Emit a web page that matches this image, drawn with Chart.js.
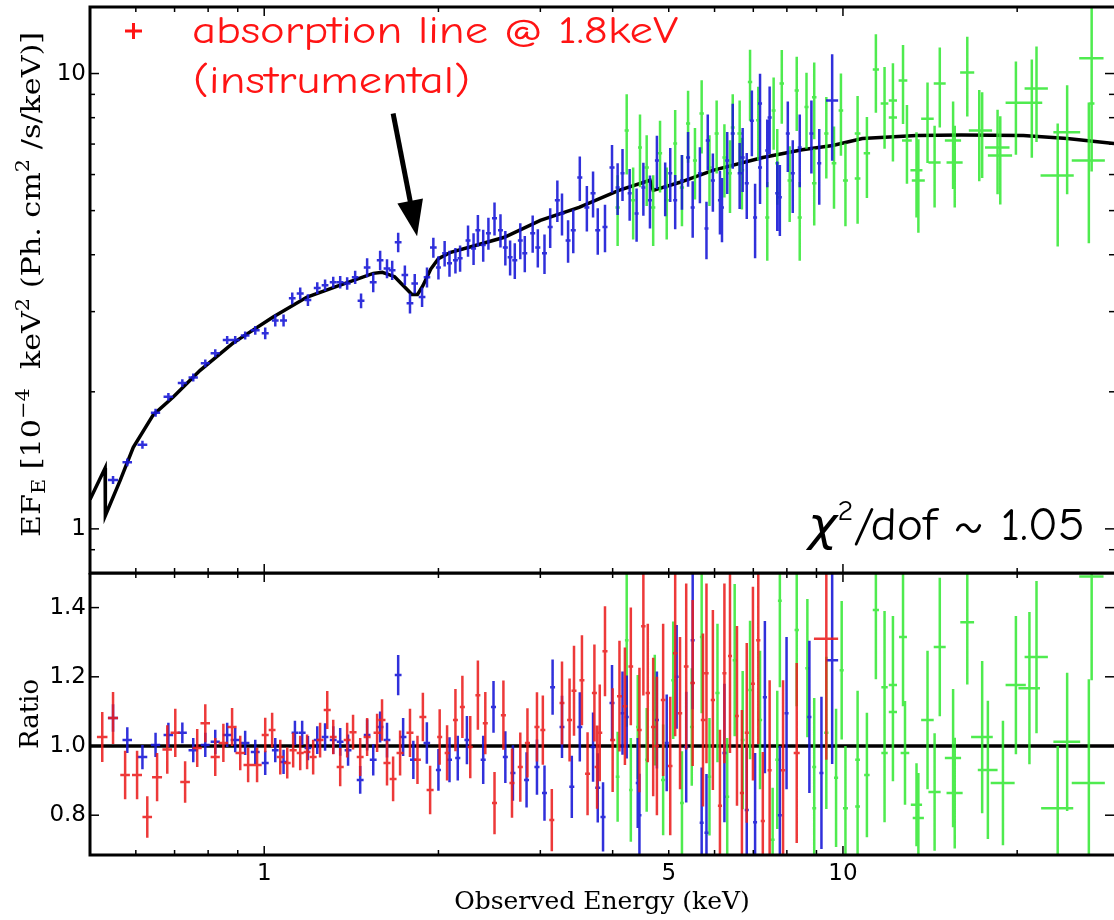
<!DOCTYPE html>
<html>
<head>
<meta charset="utf-8">
<script src="https://cdn.jsdelivr.net/npm/chart.js@4.4.1/dist/chart.umd.min.js"></script>
<style>
  html, body { margin: 0; padding: 0; background: #fff; }
  #wrap { position: relative; width: 1114px; height: 920px; overflow: hidden; }
  #top { position: absolute; left: 0; top: 0; z-index: 2; }
  #bot { position: absolute; left: 0; top: 573px; z-index: 1; }
</style>
</head>
<body>
<div id="wrap">
  <canvas id="bot" width="1114" height="347"></canvas>
  <canvas id="top" width="1114" height="580"></canvas>
</div>
<script>
// each point: [energy keV, value, half width keV, half height]
const blueSpec = [
  [0.548,1.28,0.011,0.026],[0.580,1.40,0.011,0.028],[0.616,1.53,0.012,0.031],[0.649,1.80,0.012,0.036],
  [0.683,1.95,0.013,0.039],[0.722,2.09,0.013,0.042],[0.754,2.15,0.014,0.043],[0.791,2.31,0.014,0.046],
  [0.823,2.43,0.015,0.049],[0.863,2.60,0.015,0.052],[0.891,2.60,0.016,0.052],[0.927,2.66,0.016,0.053],
  [0.965,2.73,0.017,0.06],[1.004,2.69,0.014,0.08],[1.045,2.87,0.014,0.086],[1.080,2.87,0.015,0.086],
  [1.118,3.21,0.015,0.096],[1.154,3.29,0.016,0.099],[1.190,3.18,0.016,0.095],[1.235,3.38,0.017,0.10],
  [1.274,3.43,0.017,0.10],[1.316,3.48,0.018,0.10],[1.353,3.48,0.018,0.11],[1.391,3.46,0.019,0.11],
  [1.436,3.57,0.019,0.12],[1.470,3.17,0.02,0.12],[1.506,3.75,0.02,0.18],[1.543,3.48,0.021,0.17],
  [1.586,3.89,0.021,0.19],[1.630,3.73,0.022,0.18],[1.664,3.70,0.022,0.18],[1.704,4.26,0.023,0.21],
  [1.750,3.61,0.023,0.18],[1.786,3.13,0.024,0.16],[1.820,3.46,0.024,0.17],[1.874,3.23,0.025,0.16],
  [1.911,3.57,0.025,0.18],[1.960,4.15,0.026,0.21],[2.00,3.75,0.02,0.22],[2.05,4.03,0.02,0.26],
  [2.09,3.83,0.021,0.25],[2.14,3.89,0.021,0.25],[2.18,3.93,0.022,0.26],[2.25,4.30,0.022,0.34],
  [2.30,4.13,0.023,0.33],[2.34,4.53,0.023,0.36],[2.39,4.20,0.024,0.34],[2.44,4.46,0.024,0.36],
  [2.50,4.81,0.025,0.40],[2.56,4.53,0.025,0.38],[2.61,4.15,0.026,0.36],[2.66,3.95,0.026,0.35],
  [2.71,3.89,0.027,0.35],[2.77,4.30,0.027,0.39],[2.82,4.03,0.028,0.37],[2.91,4.46,0.029,0.42],
  [2.97,4.15,0.03,0.40],[3.05,4.03,0.03,0.40],[3.12,4.60,0.031,0.46],[3.21,5.27,0.032,0.55],
  [3.27,4.93,0.033,0.52],[3.35,4.30,0.033,0.46],[3.42,4.53,0.034,0.50],[3.51,5.91,0.035,0.66],
  [3.61,5.08,0.036,0.58],[3.70,5.46,0.037,0.63],[3.77,4.53,0.038,0.53],[3.88,4.60,0.039,0.55],
  [3.99,6.22,0.04,0.75],[4.08,5.62,0.033,0.73],[4.16,6.04,0.033,0.79],[4.28,5.46,0.034,0.71],
  [4.40,4.93,0.035,0.66],[4.52,5.62,0.036,0.75],[4.64,5.27,0.037,0.70],[4.77,6.44,0.038,0.86],
  [4.93,5.62,0.039,0.76],[5.03,6.04,0.04,0.82],[5.13,5.27,0.041,0.72],[5.27,5.82,0.042,0.80],
  [5.40,6.54,0.043,0.90],[5.50,5.08,0.044,0.72],[5.66,6.04,0.045,0.85],[5.81,4.57,0.046,0.66],
  [5.84,7.13,0.047,1.0],[5.96,5.82,0.048,0.85],[6.13,5.27,0.049,0.84],[6.18,5.08,0.049,0.82],
  [6.31,6.44,0.05,1.0],[6.45,7.38,0.052,1.2],[6.63,6.04,0.053,1.0],[6.71,6.54,0.054,1.05],
  [6.82,5.74,0.055,0.95],[6.96,7.88,0.056,1.3],[7.05,4.83,0.056,0.9],[7.19,6.22,0.058,1.05],
  [7.19,8.59,0.058,1.4],[7.40,6.78,0.059,1.15],[7.47,8.01,0.06,1.35],[7.70,5.46,0.062,0.95],
  [7.78,5.35,0.062,0.95],[8.03,7.38,0.064,1.3],[8.19,6.04,0.066,1.1],[8.42,6.88,0.067,1.25],
  [8.82,7.38,0.07,1.35],[9.10,6.35,0.073,1.2],[9.58,8.73,0.23,2.3]
];
const greenSpec = [
  [4.08,5.08,0.035,0.9],[4.23,7.50,0.035,1.5],[4.34,5.27,0.035,0.95],[4.46,6.88,0.035,1.25],
  [4.58,6.22,0.04,1.1],[4.70,5.08,0.04,0.9],[4.83,6.68,0.04,1.2],[4.96,5.27,0.04,0.95],
  [5.13,7.02,0.04,1.3],[5.27,5.62,0.045,1.0],[5.40,7.77,0.045,1.4],[5.55,6.44,0.045,1.15],
  [5.70,8.17,0.05,1.5],[5.88,6.22,0.05,1.1],[6.05,7.38,0.05,1.35],[6.24,6.54,0.05,1.2],
  [6.38,6.04,0.05,1.1],[6.45,7.61,0.05,1.4],[6.63,7.38,0.06,1.35],[6.69,6.13,0.06,1.1],
  [6.91,9.58,0.06,1.7],[7.14,7.90,0.06,1.45],[7.40,4.83,0.06,0.95],[7.59,8.30,0.06,1.5],
  [7.70,6.35,0.06,1.2],[7.84,9.51,0.07,1.75],[8.09,5.82,0.07,1.1],[8.32,9.18,0.07,1.7],
  [8.42,4.83,0.07,0.95],[8.65,8.44,0.07,1.6],[8.92,8.87,0.08,1.7],[8.92,5.74,0.08,1.1],
  [9.36,7.38,0.08,1.5],[9.65,6.35,0.09,1.3],[9.92,8.30,0.09,1.7],[10.1,5.82,0.1,1.2],
  [10.6,7.38,0.12,1.55],[10.6,5.88,0.12,1.2],[11.0,6.68,0.14,1.35],[11.4,10.2,0.14,2.0],
  [11.8,8.59,0.18,1.75],[12.2,8.73,0.2,1.8],[12.2,8.01,0.2,1.6],[12.7,9.65,0.22,1.9],
  [12.9,7.13,0.25,1.4],[13.4,6.13,0.32,1.3],[13.5,5.82,0.35,1.35],[14.0,7.96,0.35,1.6],
  [14.4,6.38,0.35,1.3],[14.7,9.51,0.35,1.9],[15.5,7.13,0.5,1.55],[15.6,6.38,0.5,1.3],
  [16.4,10.05,0.46,2.0],[17.2,7.50,0.7,1.7],[17.4,7.50,0.7,1.6],[18.5,6.88,0.9,1.45],
  [18.7,6.61,0.9,1.45],[19.9,8.63,0.8,2.0],[21.2,8.63,0.9,2.1],[21.6,9.27,1.0,2.2],
  [23.5,5.97,1.55,1.8],[24.4,7.43,1.3,2.0],[26.6,6.44,1.75,2.2],[26.9,10.8,1.3,3.5],
  [26.9,8.59,0.3,2.5]
];
const modelE = [0.5,0.531,0.5315,0.564,0.594,0.643,0.697,0.775,0.884,0.909,1.036,1.186,1.353,1.543,
  1.60,1.68,1.74,1.80,1.84,1.88,1.94,2.0,2.1,2.3,2.6,3.0,3.5,4.1,4.64,4.70,5.23,5.96,7.27,8.5,
  9.6,10.8,13.4,16.0,20.5,24.4,29.4];
const modelF = [1.16,1.36,1.07,1.28,1.51,1.78,1.95,2.23,2.56,2.62,2.92,3.23,3.43,3.64,
  3.66,3.58,3.42,3.27,3.27,3.42,3.72,3.92,4.05,4.18,4.37,4.76,5.08,5.54,5.83,5.54,5.77,6.13,6.54,6.8,
  6.95,7.2,7.31,7.33,7.31,7.2,7.02];

const redRatio = [
  [0.525,1.026,0.011,0.072],[0.548,1.081,0.011,0.075],[0.575,0.916,0.011,0.07],[0.603,0.916,0.012,0.07],
  [0.628,0.795,0.012,0.06],[0.653,0.91,0.013,0.07],[0.680,0.99,0.013,0.07],[0.702,1.038,0.013,0.07],
  [0.730,0.896,0.014,0.06],[0.766,0.994,0.014,0.055],[0.791,1.066,0.015,0.055],[0.823,0.968,0.015,0.055],
  [0.850,1.009,0.016,0.055],[0.880,1.055,0.016,0.055],[0.909,0.98,0.017,0.05],[0.938,0.945,0.017,0.05],
  [0.972,0.945,0.018,0.05],[1.004,1.032,0.014,0.05],[1.032,1.046,0.014,0.05],[1.066,0.968,0.015,0.05],
  [1.096,0.951,0.015,0.045],[1.122,0.988,0.016,0.05],[1.154,0.98,0.016,0.05],[1.186,0.983,0.016,0.05],
  [1.215,0.968,0.017,0.05],[1.249,1.017,0.017,0.05],[1.285,1.104,0.018,0.055],[1.316,1.026,0.018,0.05],
  [1.353,0.939,0.019,0.055],[1.391,1.017,0.019,0.05],[1.424,1.04,0.02,0.05],[1.465,0.968,0.02,0.055],
  [1.506,1.026,0.021,0.055],[1.567,1.038,0.022,0.055],[1.598,1.075,0.022,0.06],[1.630,0.951,0.023,0.065],
  [1.670,0.905,0.023,0.065],[1.717,0.98,0.024,0.065],[1.786,1.038,0.025,0.07],[1.840,0.96,0.025,0.07],
  [1.880,1.084,0.026,0.07],[1.935,0.873,0.027,0.07],[2.01,1.026,0.02,0.08],[2.07,0.98,0.02,0.08],
  [2.14,1.075,0.021,0.09],[2.20,1.113,0.022,0.09],[2.27,0.997,0.023,0.09],[2.34,1.147,0.023,0.1],
  [2.41,1.066,0.024,0.09],[2.50,0.835,0.025,0.09],[2.59,1.089,0.026,0.1],[2.68,0.893,0.027,0.1],
  [2.77,0.939,0.028,0.1],[2.85,1.009,0.029,0.1],[2.96,1.055,0.03,0.1],[3.03,1.046,0.03,0.1],
  [3.14,0.786,0.031,0.09],[3.27,1.124,0.032,0.12],[3.37,1.075,0.033,0.12],[3.43,1.16,0.034,0.13],
  [3.54,1.19,0.035,0.13],[3.62,0.92,0.036,0.12],[3.72,1.153,0.037,0.14],[3.76,0.939,0.037,0.12],
  [3.80,1.038,0.038,0.14],[3.88,1.274,0.039,0.13],[4.00,1.017,0.04,0.15],[4.11,1.144,0.04,0.16],
  [4.20,1.115,0.04,0.17],[4.30,1.23,0.04,0.17],[4.45,1.046,0.04,0.18],[4.52,1.346,0.04,0.2],
  [4.60,1.153,0.04,0.2],[4.70,1.055,0.04,0.2],[4.77,1.0,0.04,0.2],[4.89,1.133,0.045,0.22],
  [5.03,0.942,0.045,0.2],[5.13,1.268,0.045,0.24],[5.23,1.095,0.045,0.22],[5.36,1.23,0.05,0.24],
  [5.50,1.182,0.05,0.24],[5.73,1.075,0.05,0.25],[5.81,1.21,0.05,0.26],[5.96,1.133,0.05,0.26],
  [6.13,0.827,0.05,0.22],[6.24,1.21,0.05,0.26],[6.38,1.26,0.05,0.28],[6.56,1.087,0.05,0.26],
  [6.69,0.864,0.055,0.24],[6.82,1.038,0.055,0.26],[6.99,1.18,0.055,0.28],[7.14,1.306,0.06,0.3],
  [7.27,0.783,0.06,0.2],[7.47,0.93,0.06,0.26],[7.88,0.93,0.07,0.26],[8.32,0.98,0.1,0.26],
  [9.36,1.31,0.45,0.35]
];
const blueRatio = [
  [0.548,1.081,0.011,0.04],[0.580,1.017,0.011,0.037],[0.616,0.968,0.012,0.035],[0.649,1.003,0.012,0.035],
  [0.683,1.032,0.013,0.035],[0.722,1.038,0.013,0.03],[0.754,0.988,0.014,0.035],[0.791,1.003,0.014,0.035],
  [0.823,1.012,0.015,0.035],[0.863,1.032,0.015,0.035],[0.891,1.017,0.016,0.035],[0.927,1.009,0.016,0.035],
  [0.965,0.983,0.017,0.035],[1.004,0.951,0.014,0.035],[1.045,0.988,0.014,0.035],[1.080,0.954,0.015,0.035],
  [1.130,1.038,0.015,0.035],[1.163,1.038,0.016,0.035],[1.190,0.994,0.016,0.035],[1.235,1.017,0.017,0.04],
  [1.274,1.026,0.017,0.04],[1.316,1.017,0.018,0.04],[1.353,1.012,0.018,0.04],[1.396,0.988,0.019,0.045],
  [1.465,0.902,0.02,0.04],[1.506,1.032,0.02,0.045],[1.543,0.96,0.021,0.045],[1.586,1.055,0.021,0.045],
  [1.630,1.017,0.022,0.05],[1.704,1.205,0.023,0.058],[1.738,1.026,0.023,0.055],[1.810,0.96,0.024,0.055],
  [1.910,1.009,0.025,0.06],[2.00,0.931,0.02,0.06],[2.09,0.96,0.021,0.065],[2.16,0.965,0.022,0.065],
  [2.24,1.017,0.022,0.07],[2.39,0.96,0.024,0.07],[2.49,1.113,0.025,0.075],[2.61,0.968,0.026,0.075],
  [2.69,0.922,0.027,0.08],[2.84,0.902,0.028,0.08],[2.96,0.939,0.03,0.08],[3.05,0.864,0.03,0.08],
  [3.15,1.17,0.031,0.08],[3.27,1.055,0.032,0.09],[3.40,0.882,0.034,0.09],[3.51,1.055,0.035,0.1],
  [3.70,0.997,0.037,0.1],[3.77,0.879,0.038,0.1],[3.85,0.795,0.039,0.1],[3.99,1.124,0.04,0.11],
  [4.16,1.095,0.033,0.12],[4.23,1.084,0.034,0.12],[4.42,0.893,0.035,0.13],[4.45,0.80,0.036,0.12],
  [4.77,1.075,0.038,0.14],[4.96,1.009,0.04,0.14],[5.16,1.2,0.041,0.15],[5.36,0.997,0.043,0.16],
  [5.50,1.306,0.044,0.2],[5.70,0.778,0.045,0.16],[5.81,0.749,0.046,0.17],[6.24,0.98,0.05,0.2],
  [6.82,0.815,0.055,0.18],[7.05,0.78,0.056,0.2],[7.33,1.141,0.06,0.22],[7.78,0.8,0.062,0.2],
  [7.99,1.095,0.064,0.22],[8.75,1.084,0.07,0.22],[9.18,0.922,0.073,0.22],[9.58,1.248,0.23,0.3]
];
const greenRatio = [
  [4.08,0.911,0.03,0.13],[4.23,1.306,0.03,0.25],[4.30,0.873,0.03,0.15],[4.42,1.055,0.03,0.15],
  [4.58,0.96,0.03,0.15],[4.73,1.104,0.03,0.16],[4.89,0.902,0.04,0.16],[5.09,1.19,0.04,0.17],
  [5.27,0.835,0.04,0.15],[5.48,1.055,0.04,0.17],[5.70,1.315,0.04,0.22],[5.88,0.911,0.04,0.17],
  [6.07,1.153,0.05,0.2],[6.31,0.853,0.05,0.17],[6.50,1.248,0.05,0.22],[6.71,1.017,0.05,0.2],
  [6.91,1.162,0.05,0.2],[7.19,1.075,0.06,0.2],[7.56,0.729,0.06,0.15],[7.70,0.96,0.06,0.2],
  [7.78,1.42,0.06,0.25],[8.32,1.335,0.07,0.22],[8.68,1.225,0.07,0.2],[8.92,0.939,0.07,0.2],
  [8.92,0.82,0.07,0.2],[9.36,1.038,0.08,0.22],[9.73,0.908,0.08,0.2],[9.95,1.219,0.08,0.2],
  [10.1,0.82,0.1,0.18],[10.6,0.96,0.1,0.2],[10.6,0.825,0.1,0.18],[11.0,0.916,0.12,0.18],
  [11.4,1.393,0.14,0.2],[11.8,1.17,0.15,0.22],[11.8,0.98,0.15,0.2],[12.2,1.176,0.2,0.2],
  [12.2,1.098,0.2,0.2],[12.7,1.315,0.2,0.2],[12.8,0.98,0.22,0.15],[13.4,0.83,0.3,0.12],
  [13.5,0.792,0.3,0.13],[14.0,1.075,0.35,0.2],[14.4,0.867,0.35,0.17],[14.7,1.286,0.35,0.2],
  [15.5,0.965,0.5,0.2],[15.6,0.864,0.5,0.16],[16.4,1.358,0.45,0.18],[17.4,1.026,0.75,0.22],
  [17.8,0.931,0.7,0.2],[18.9,0.893,0.9,0.18],[19.9,1.176,0.8,0.2],[21.0,1.167,0.9,0.22],
  [21.6,1.257,1.0,0.22],[23.5,0.82,1.5,0.18],[24.4,1.012,1.3,0.2],[26.6,0.893,1.75,0.3],
  [26.9,1.49,1.3,0.3]
];
const ratioLineE = [0.5, 29.4];
const ratioLineV = [1.0, 1.0];

const xTickMajor = [1, 10];
const xTickMinor = [0.6, 0.7, 0.8, 0.9, 2, 3, 4, 5, 6, 7, 8, 9, 20];
const xTickLabels = [1, 5, 10];
const yTopMajor = [1, 10];
const yTopMinor = [0.9, 2, 3, 4, 5, 6, 7, 8, 9];
const yRatioMajor = [0.8, 1.0, 1.2, 1.4];

const arrowTail = [1.67, 8.17];
const arrowTip = [1.837, 4.39];

const BLUE = "rgba(25, 25, 215, 0.9)";
const GREEN = "rgba(55, 232, 55, 0.88)";
const RED = "rgba(235, 30, 30, 0.88)";
const TICK_FONT = { family: "'DejaVu Sans', sans-serif", size: 23 };
const SERIF = "'DejaVu Serif', 'Liberation Serif', serif";
const NOTE_FONT = "'Comic Sans MS', 'Comic Neue', 'DejaVu Sans', sans-serif";

function crosses(points) {
  const out = [];
  points.forEach(([e, v, de, dv]) => {
    out.push({ x: e - de, y: v }, { x: e + de, y: v }, { x: e, y: null });
    out.push({ x: e, y: v - dv }, { x: e, y: v + dv }, { x: e, y: null });
  });
  return out;
}

function errSet(points, color) {
  return {
    data: crosses(points),
    showLine: true,
    spanGaps: false,
    borderColor: color,
    borderWidth: 2.5,
    pointRadius: 0,
    pointHoverRadius: 0,
    clip: 0,
  };
}

function curve(xs, ys, width) {
  return {
    data: xs.map((x, i) => ({ x: x, y: ys[i] })),
    showLine: true,
    borderColor: "#000",
    borderWidth: width,
    pointRadius: 0,
    pointHoverRadius: 0,
    tension: 0,
    clip: 0,
  };
}

function drawRich(ctx, parts, x, y, width) {
  let total = 0;
  parts.forEach((p) => {
    ctx.font = p.font;
    p.w = ctx.measureText(p.text).width;
    total += p.w;
  });
  const sx = width ? width / total : 1;
  ctx.save();
  ctx.translate(x, y);
  ctx.scale(sx, 1);
  ctx.textAlign = "left";
  ctx.textBaseline = "alphabetic";
  let cx = 0;
  parts.forEach((p) => {
    ctx.font = p.font;
    ctx.fillText(p.text, cx, p.dy || 0);
    cx += p.w;
  });
  ctx.restore();
}

function framePlugin(yMajor, yMinor) {
  return {
    id: "frame",
    afterDatasetsDraw(chart) {
      const { ctx, chartArea: a, scales } = chart;
      const xs = scales.x, ys = scales.y;
      ctx.save();
      ctx.strokeStyle = "#000";
      ctx.lineWidth = 1.5;
      const seg = (x0, y0, x1, y1) => {
        ctx.beginPath();
        ctx.moveTo(x0, y0);
        ctx.lineTo(x1, y1);
        ctx.stroke();
      };
      xTickMajor.concat(xTickMinor).forEach((v) => {
        const len = xTickMajor.includes(v) ? 9 : 5;
        const px = xs.getPixelForValue(v);
        seg(px, a.top, px, a.top + len);
        seg(px, a.bottom, px, a.bottom - len);
      });
      yMajor.concat(yMinor).forEach((v) => {
        const len = yMajor.includes(v) ? 9 : 5;
        const py = ys.getPixelForValue(v);
        seg(a.left, py, a.left + len, py);
        seg(a.right, py, a.right - len, py);
      });
      ctx.lineWidth = 3;
      ctx.beginPath();
      ctx.moveTo(a.right, a.top);
      ctx.lineTo(a.left, a.top);
      ctx.lineTo(a.left, a.bottom);
      ctx.lineTo(a.right, a.bottom);
      ctx.stroke();
      ctx.restore();
    },
  };
}

const topNotes = {
  id: "topNotes",
  afterDraw(chart) {
    const { ctx, scales } = chart;
    const xs = scales.x, ys = scales.y;

    // y axis title with sub/superscripts
    const main = "26px " + SERIF, small = "18px " + SERIF;
    ctx.save();
    ctx.fillStyle = "#000";
    ctx.translate(40, 285);
    ctx.rotate(-Math.PI / 2);
    drawRich(ctx, [
      { text: "EF", font: main },
      { text: "E", font: small, dy: 5 },
      { text: " [10", font: main },
      { text: "\u22124", font: small, dy: -11 },
      { text: "  keV", font: main },
      { text: "2", font: small, dy: -11 },
      { text: " (Ph. cm", font: main },
      { text: "2", font: small, dy: -11 },
      { text: " /s/keV)]", font: main },
    ], -252, 0, 505);
    ctx.restore();

    // red annotation
    ctx.save();
    ctx.fillStyle = "#ff1414";
    ctx.strokeStyle = "#ff1414";
    ctx.lineWidth = 3;
    ctx.beginPath();
    ctx.moveTo(125, 31); ctx.lineTo(142, 31);
    ctx.moveTo(133.5, 23); ctx.lineTo(133.5, 39);
    ctx.stroke();
    drawRich(ctx, [{ text: "absorption line @ 1.8keV", font: "38px " + NOTE_FONT }], 192, 43, 486);
    drawRich(ctx, [{ text: "(instrumental)", font: "38px " + NOTE_FONT }], 193, 93, 277);
    ctx.restore();

    // arrow pointing at the line
    const x0 = xs.getPixelForValue(arrowTail[0]), y0 = ys.getPixelForValue(arrowTail[1]);
    const x1 = xs.getPixelForValue(arrowTip[0]), y1 = ys.getPixelForValue(arrowTip[1]);
    const ang = Math.atan2(y1 - y0, x1 - x0);
    const hl = 36, hw = 13;
    const bx = x1 - hl * Math.cos(ang), by = y1 - hl * Math.sin(ang);
    ctx.save();
    ctx.strokeStyle = "#000";
    ctx.fillStyle = "#000";
    ctx.lineWidth = 5;
    ctx.beginPath();
    ctx.moveTo(x0, y0);
    ctx.lineTo(bx + 4 * Math.cos(ang), by + 4 * Math.sin(ang));
    ctx.stroke();
    ctx.beginPath();
    ctx.moveTo(x1, y1);
    ctx.lineTo(bx + hw * Math.sin(ang), by - hw * Math.cos(ang));
    ctx.lineTo(bx - hw * Math.sin(ang), by + hw * Math.cos(ang));
    ctx.closePath();
    ctx.fill();
    ctx.restore();

    // fit quality
    ctx.save();
    ctx.fillStyle = "#000";
    drawRich(ctx, [
      { text: "\u03c7", font: "italic 46px " + NOTE_FONT },
      { text: "2", font: "28px " + NOTE_FONT, dy: -20 },
      { text: "/dof ~ 1.05", font: "46px " + NOTE_FONT },
    ], 808, 540, 277);
    ctx.restore();
  },
};

new Chart(document.getElementById("top"), {
  type: "scatter",
  data: {
    datasets: [errSet(blueSpec, BLUE), errSet(greenSpec, GREEN), curve(modelE, modelF, 3.5)],
  },
  options: {
    responsive: false,
    animation: false,
    events: [],
    layout: { autoPadding: false, padding: { top: 7, bottom: 7, left: 0, right: 0 } },
    plugins: { legend: { display: false }, tooltip: { enabled: false } },
    scales: {
      x: { type: "logarithmic", display: false, min: 0.5, max: 29.4 },
      y: {
        type: "logarithmic",
        min: 0.8,
        max: 14,
        grid: { display: false, drawTicks: false },
        border: { display: false },
        ticks: { font: TICK_FONT, color: "#000", padding: 4, autoSkip: false, callback: (v) => String(v) },
        afterBuildTicks: (s) => { s.ticks = yTopMajor.map((v) => ({ value: v })); },
        afterFit: (s) => { s.width = 90; s.paddingTop = 0; s.paddingBottom = 0; },
      },
    },
  },
  plugins: [framePlugin(yTopMajor, yTopMinor), topNotes],
});

new Chart(document.getElementById("bot"), {
  type: "scatter",
  data: {
    datasets: [
      errSet(redRatio, RED),
      errSet(blueRatio, BLUE),
      errSet(greenRatio, GREEN),
      curve(ratioLineE, ratioLineV, 3.5),
    ],
  },
  options: {
    responsive: false,
    animation: false,
    events: [],
    layout: { autoPadding: false, padding: 0 },
    plugins: { legend: { display: false }, tooltip: { enabled: false } },
    scales: {
      x: {
        type: "logarithmic",
        min: 0.5,
        max: 29.4,
        grid: { display: false, drawTicks: false },
        border: { display: false },
        ticks: { font: TICK_FONT, color: "#000", padding: 5, autoSkip: false, maxRotation: 0, callback: (v) => String(v) },
        title: {
          display: true,
          text: "Observed Energy (keV)",
          color: "#000",
          font: { family: SERIF, size: 25 },
          padding: { top: 0, bottom: 3 },
        },
        afterBuildTicks: (s) => { s.ticks = xTickLabels.map((v) => ({ value: v })); },
        afterFit: (s) => { s.height = 65; s.paddingLeft = 0; s.paddingRight = 0; },
      },
      y: {
        type: "linear",
        min: 0.685,
        max: 1.5,
        grid: { display: false, drawTicks: false },
        border: { display: false },
        ticks: { font: TICK_FONT, color: "#000", padding: 4, autoSkip: false, callback: (v) => v.toFixed(1) },
        title: {
          display: true,
          text: "Ratio",
          color: "#000",
          font: { family: SERIF, size: 26 },
          padding: { top: 16, bottom: 0 },
        },
        afterBuildTicks: (s) => { s.ticks = yRatioMajor.map((v) => ({ value: v })); },
        afterFit: (s) => { s.width = 90; s.paddingTop = 0; s.paddingBottom = 0; },
      },
    },
  },
  plugins: [framePlugin(yRatioMajor, [])],
});
</script>
</body>
</html>
